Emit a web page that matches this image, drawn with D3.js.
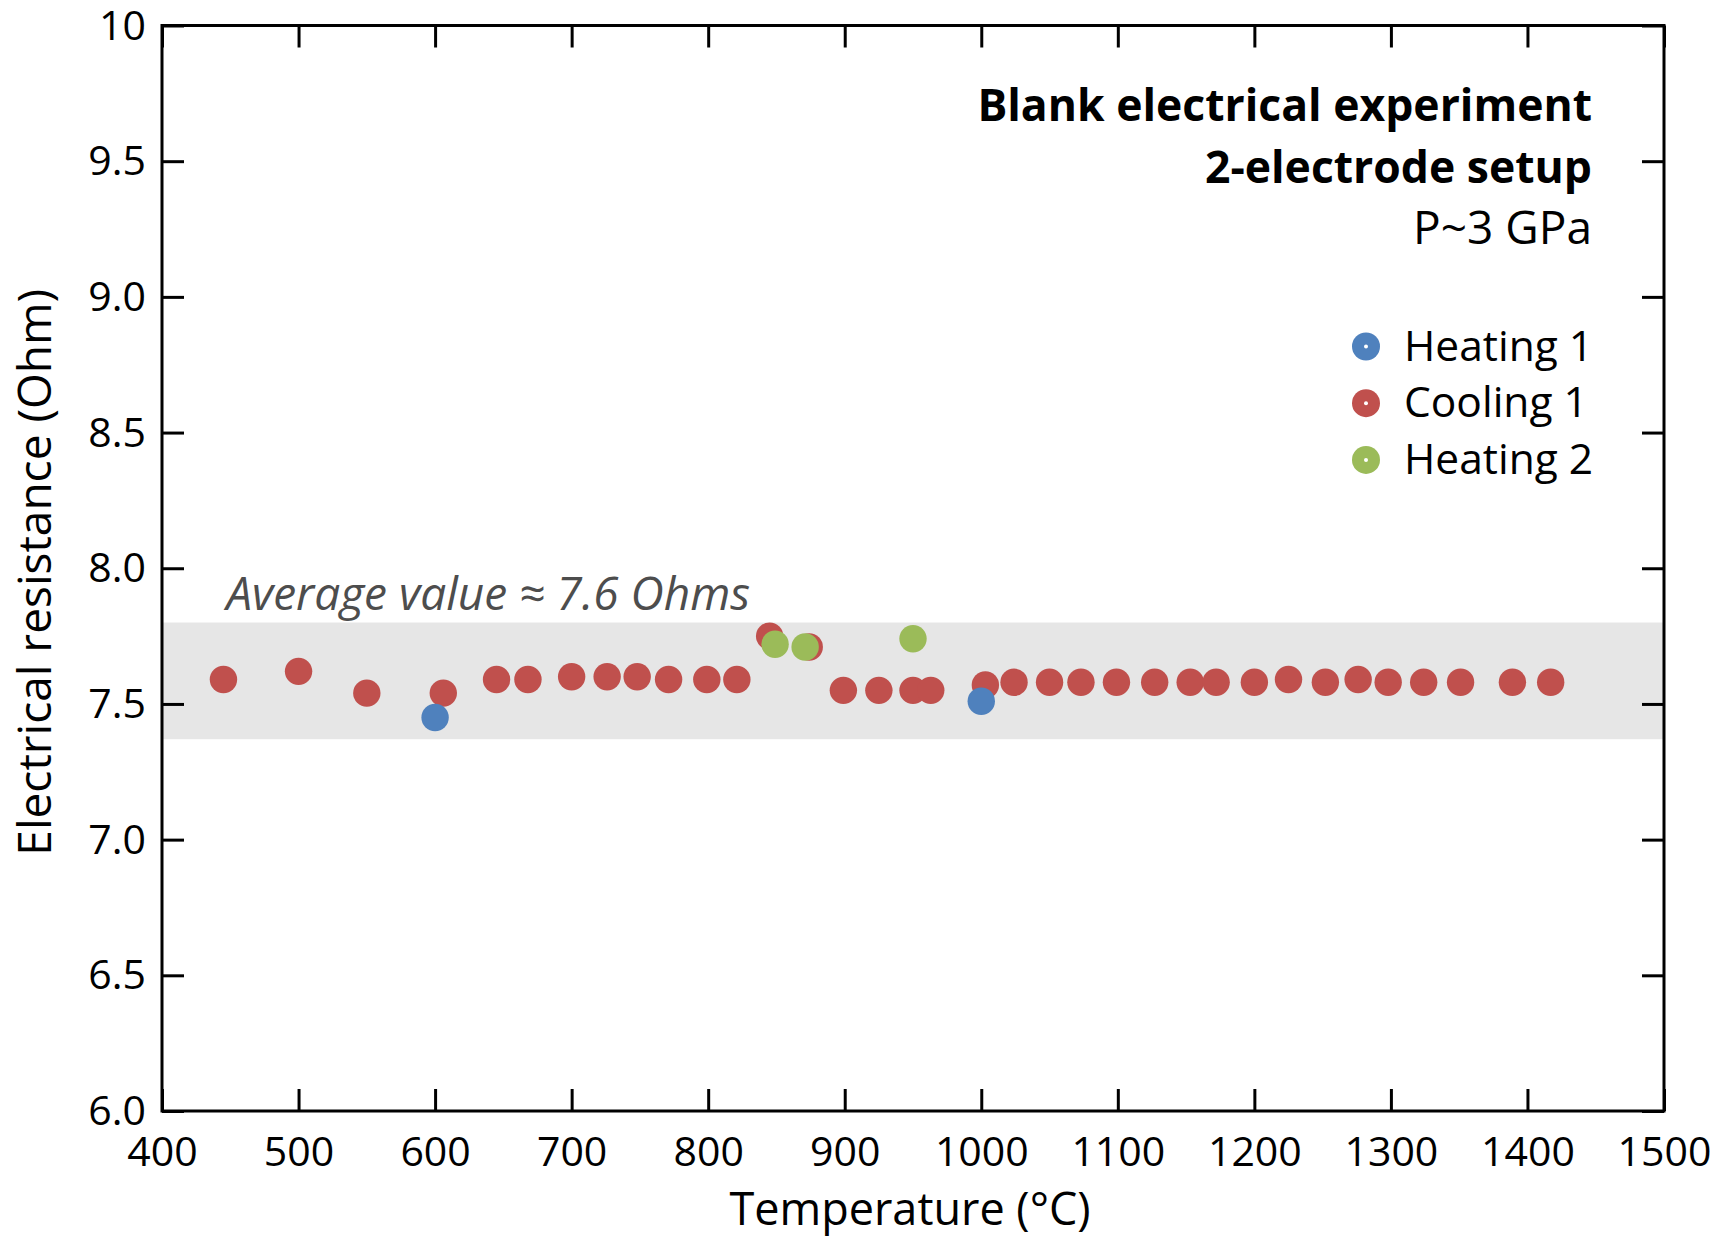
<!DOCTYPE html>
<html>
<head>
<meta charset="utf-8">
<script src="https://cdn.jsdelivr.net/npm/d3@7"></script>
<style>
  body { margin: 0; background: #fff; }
  svg text { font-family: "Open Sans", "Noto Sans", sans-serif; }
</style>
</head>
<body>
<div id="graph"></div>
<script>
// values
var heat1T = [600, 1000]
var heat1R = [7.45, 7.51]

var coolT = [445, 500, 550, 606, 645, 668, 700, 726, 748, 771, 799, 821, 845, 874, 899, 925, 950, 963,
             1003, 1024, 1050, 1073, 1099, 1127, 1153, 1172, 1200, 1225, 1252, 1276, 1298, 1324, 1351, 1389, 1417]
var coolR = [7.59, 7.62, 7.54, 7.54, 7.59, 7.59, 7.60, 7.60, 7.60, 7.59, 7.59, 7.59, 7.75, 7.71, 7.55, 7.55, 7.55, 7.55,
             7.57, 7.58, 7.58, 7.58, 7.58, 7.58, 7.58, 7.58, 7.58, 7.59, 7.58, 7.59, 7.58, 7.58, 7.58, 7.58, 7.58]

var heat2T = [849, 871, 950]
var heat2R = [7.72, 7.71, 7.74]

var xTicks = [400, 500, 600, 700, 800, 900, 1000, 1100, 1200, 1300, 1400, 1500]
var yTicks = [6.0, 6.5, 7.0, 7.5, 8.0, 8.5, 9.0, 9.5, 10]
var yTickLabels = ["6.0", "6.5", "7.0", "7.5", "8.0", "8.5", "9.0", "9.5", "10"]

var bandLo = 7.37
var bandHi = 7.80

var seriesNames = ["Heating 1", "Cooling 1", "Heating 2"]
var seriesColors = ["#4f81bd", "#c0504d", "#9bbb59"]

var titleLines = ["Blank electrical experiment", "2-electrode setup", "P~3 GPa"]

const width = 1725, height = 1239
const margin = { left: 162, right: 61, top: 25.5, bottom: 128 }
const w = width - margin.left - margin.right
const h = height - margin.top - margin.bottom

const svg = d3.select("#graph")
    .append("svg")
        .attr("width", width)
        .attr("height", height)
    .append("g")
        .attr("transform", `translate(${margin.left}, ${margin.top})`)

const x = d3.scaleLinear().domain([400, 1500]).range([0, w])
const y = d3.scaleLinear().domain([6, 10]).range([h, 0])

// average band
svg.append("rect")
    .attr("x", 0)
    .attr("width", w)
    .attr("y", y(bandHi))
    .attr("height", y(bandLo) - y(bandHi))
    .attr("fill", "#e6e6e6")

svg.append("text")
    .attr("x", x(447))
    .attr("y", y(7.845))
    .attr("font-style", "italic")
    .attr("font-size", 46)
    .attr("fill", "#4d4d4d")
    .text("Average value \u2248 7.6 Ohms")

// axes, ticks pointing inward on all four sides
const tickLen = 22
function styleAxis(g) {
    g.select(".domain").remove()
    g.selectAll(".tick line").attr("stroke", "#000").attr("stroke-width", 3)
}

svg.append("g")
    .attr("transform", `translate(0, ${h})`)
    .call(d3.axisBottom(x).tickValues(xTicks).tickSize(-tickLen).tickPadding(0).tickFormat(d3.format("d")))
    .call(styleAxis)
    .call(g => g.selectAll(".tick text")
        .attr("y", 55).attr("dy", 0)
        .attr("font-size", 41).attr("fill", "#000"))

svg.append("g")
    .call(d3.axisTop(x).tickValues(xTicks).tickSize(-tickLen).tickFormat(""))
    .call(styleAxis)

svg.append("g")
    .call(d3.axisLeft(y).tickValues(yTicks).tickSize(-tickLen).tickPadding(16).tickFormat((d, i) => yTickLabels[i]))
    .call(styleAxis)
    .call(g => g.selectAll(".tick text")
        .attr("dy", "0.33em")
        .attr("font-size", 41).attr("fill", "#000"))

svg.append("g")
    .attr("transform", `translate(${w}, 0)`)
    .call(d3.axisRight(y).tickValues(yTicks).tickSize(-tickLen).tickFormat(""))
    .call(styleAxis)

svg.append("rect")
    .attr("width", w)
    .attr("height", h)
    .attr("fill", "none")
    .attr("stroke", "#000")
    .attr("stroke-width", 3)

// axis titles
svg.append("text")
    .attr("x", w / 2 - 3)
    .attr("y", h + 114)
    .attr("text-anchor", "middle")
    .attr("font-size", 45)
    .text("Temperature (\u00b0C)")

svg.append("text")
    .attr("transform", `translate(${-margin.left + 51}, ${h / 2 + 4}) rotate(-90)`)
    .attr("text-anchor", "middle")
    .attr("font-size", 46)
    .text("Electrical resistance (Ohm)")

// points: cooling underneath, heating runs on top
const r = 13.7
function dots(T, R, color) {
    svg.append("g")
        .selectAll("circle")
        .data(T.map((t, i) => [t, R[i]]))
        .enter().append("circle")
            .attr("cx", d => x(d[0]))
            .attr("cy", d => y(d[1]))
            .attr("r", r)
            .attr("fill", color)
}
dots(coolT, coolR, seriesColors[1])
dots(heat1T, heat1R, seriesColors[0])
dots(heat2T, heat2R, seriesColors[2])

// title block, right aligned
const titleX = 1592 - margin.left
const titleY = [121, 183, 244]
const titleSize = [44.5, 44.5, 46]
titleLines.forEach((t, i) => {
    svg.append("text")
        .attr("x", titleX)
        .attr("y", titleY[i] - margin.top)
        .attr("text-anchor", "end")
        .attr("font-size", titleSize[i])
        .attr("font-weight", i < 2 ? "bold" : "normal")
        .text(t)
})

// legend
const legend = svg.append("g")
    .attr("transform", `translate(${1366 - margin.left}, ${346.5 - margin.top})`)
seriesNames.forEach((name, i) => {
    const row = legend.append("g").attr("transform", `translate(0, ${i * 56.7})`)
    row.append("circle").attr("r", 14).attr("fill", seriesColors[i])
    row.append("circle").attr("r", 2).attr("fill", "#fff")
    row.append("text")
        .attr("x", 38)
        .attr("y", 14)
        .attr("font-size", 42.5)
        .text(name)
})
</script>
</body>
</html>
